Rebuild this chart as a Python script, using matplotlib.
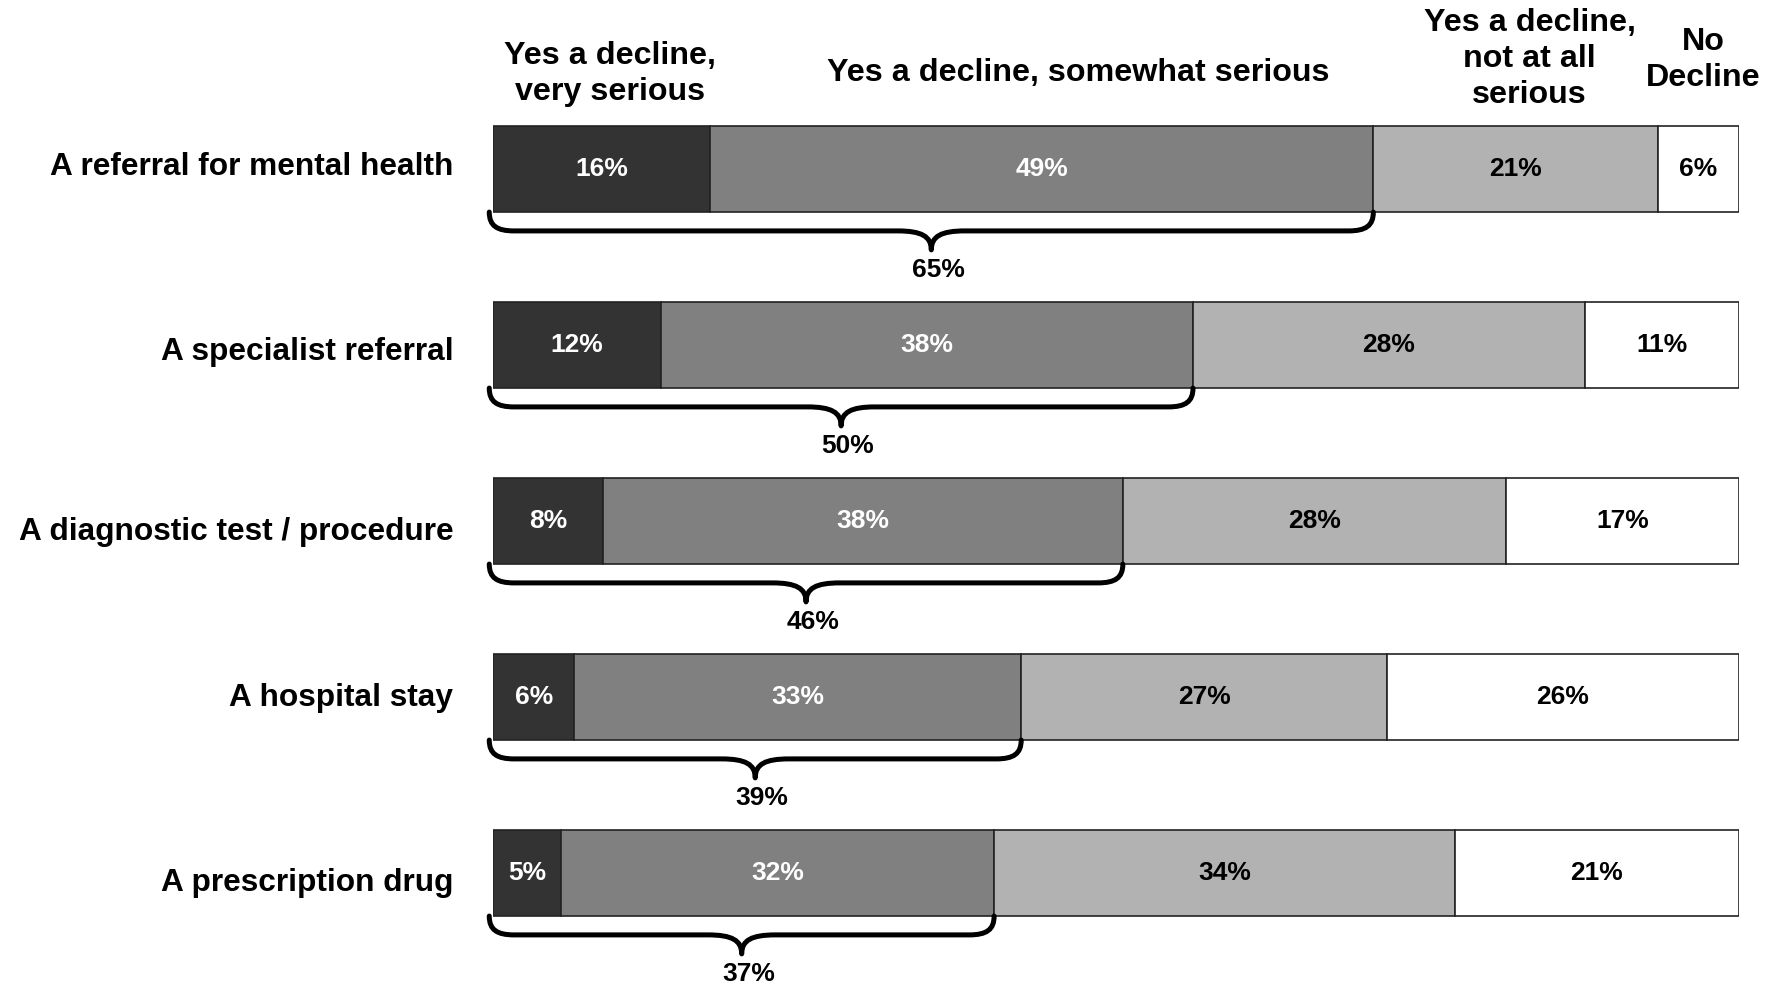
import numpy as np
import matplotlib.pyplot as plt
from matplotlib.path import Path
from matplotlib.patches import PathPatch

plt.rcParams['font.family'] = ['Liberation Sans', 'DejaVu Sans']
plt.rcParams['font.weight'] = 'bold'

items = ['A referral for mental health', 'A specialist referral',
         'A diagnostic test / procedure', 'A hospital stay', 'A prescription drug']
very_serious = [16, 12, 8, 6, 5]
somewhat_serious = [49, 38, 38, 33, 32]
not_serious = [21, 28, 28, 27, 34]
no_decline = [6, 11, 17, 26, 21]
any_serious = [65, 50, 46, 39, 37]

headers = ['Yes a decline,\nvery serious', 'Yes a decline, somewhat serious',
           'Yes a decline,\nnot at all\nserious', 'No\nDecline']
colors = ['#333333', '#808080', '#b2b2b2', '#ffffff']
text_colors = ['white', 'white', 'black', 'black']

# row labels don't sit exactly on the bar centres
label_nudge = [-0.012, 0.038, 0.062, 0.006, 0.056]


def draw_brace(ax, x0, x1, y):
    # curly brace hanging under a bar, tip pointing down at the middle
    yb, yh, yt = y + 0.245, y + 0.352, y + 0.46
    xm = (x0 + x1) / 2
    dx, mx = 0.02, 0.027
    verts = [(x0, yb),
             (x0, yh - 0.03), (x0 + dx * 0.3, yh), (x0 + dx, yh),
             (xm - mx, yh),
             (xm - mx * 0.3, yh), (xm, yh + 0.03), (xm, yt),
             (xm, yh + 0.03), (xm + mx * 0.3, yh), (xm + mx, yh),
             (x1 - dx, yh),
             (x1 - dx * 0.3, yh), (x1, yh - 0.03), (x1, yb)]
    codes = [Path.MOVETO,
             Path.CURVE4, Path.CURVE4, Path.CURVE4,
             Path.LINETO,
             Path.CURVE4, Path.CURVE4, Path.CURVE4,
             Path.CURVE4, Path.CURVE4, Path.CURVE4,
             Path.LINETO,
             Path.CURVE4, Path.CURVE4, Path.CURVE4]
    ax.add_patch(PathPatch(Path(verts, codes), fill=False, lw=3.6,
                           edgecolor='black', capstyle='round',
                           joinstyle='round', clip_on=False))


fig = plt.figure(figsize=(17.81, 9.84), dpi=100)
ax = fig.add_axes([493 / 1781, 0, 1246 / 1781, 1])
ax.set_xlim(0, 1)
ax.set_ylim(4.631, -0.960)
ax.axis('off')

series = np.array([very_serious, somewhat_serious, not_serious, no_decline], dtype=float)
for i, name in enumerate(items):
    vals = series[:, i]
    shares = vals / vals.sum()
    left = 0.0
    for j, (v, s) in enumerate(zip(vals, shares)):
        ax.barh(i, s, left=left, height=0.489, color=colors[j],
                edgecolor='#222222', linewidth=1.2)
        ax.text(left + s / 2, i, f'{int(v)}%', ha='center', va='center',
                fontsize=19, color=text_colors[j])
        left += s
    ax.text(-0.032, i + label_nudge[i], name, ha='right', va='center',
            fontsize=22.8)

    # bracket over the two "serious" segments with their combined share
    x_end = shares[0] + shares[1]
    draw_brace(ax, -0.003, x_end, i)
    ax.text(x_end / 2 + 0.004, i + 0.572, f'{any_serious[i]}%',
            ha='center', va='center', fontsize=19)

header_pos = [(0.094, -0.54), (0.470, -0.545), (0.832, -0.625), (0.971, -0.62)]
for label, (hx, hy) in zip(headers, header_pos):
    ax.text(hx, hy, label, ha='center', va='center', fontsize=23.2,
            linespacing=1.25, clip_on=False)

fig.savefig('out.png', dpi=100)
